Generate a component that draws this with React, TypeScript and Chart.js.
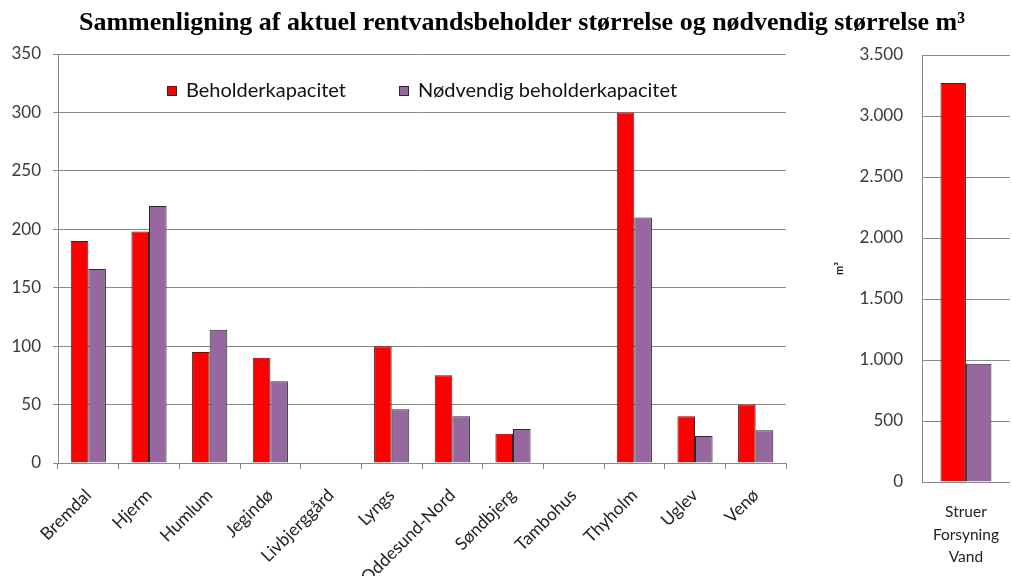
import React, { useEffect, useRef } from "react";
import { Chart, registerables } from "chart.js";

Chart.register(...registerables);

const TITLE = "Sammenligning af aktuel rentvandsbeholder størrelse og nødvendig størrelse m³";
const SERIES_LABELS = ["Beholderkapacitet", "Nødvendig beholderkapacitet"];

const categories = [
  "Bremdal", "Hjerm", "Humlum", "Jegindø", "Livbjerggård", "Lyngs",
  "Oddesund-Nord", "Søndbjerg", "Tambohus", "Thyholm", "Uglev", "Venø",
];
const capacity = [190, 198, 95, 90, null, 100, 75, 25, null, 300, 40, 50];
const required = [166, 220, 114, 70, null, 46, 40, 29, null, 210, 23, 28];

const bigCategories = [["Struer", "Forsyning", "Vand"]];
const bigCapacity = [3270];
const bigRequired = [970];

const leftTicks = { min: 0, max: 350, step: 50 };
const rightTicks = { min: 0, max: 3500, step: 500 };
const rightAxisTitle = "m³";

const RED = "#FF0000";
const PURPLE = "#97679F";
const BORDER = "#2a2a2a";
const GRID = "#8a8a8a";
const FONT = "Lato";

const fmtDots = (v: number) => String(v).replace(/\B(?=(\d{3})+(?!\d))/g, ".");

const insideLegend = {
  id: "insideLegend",
  afterDraw(chart: any, _args: any, opts: any) {
    if (!opts || !opts.display) return;
    const ctx = chart.ctx;
    const { left, top } = chart.chartArea;
    ctx.save();
    ctx.font = `${opts.size}px ${opts.family}`;
    ctx.textBaseline = "middle";
    ctx.textAlign = "left";
    let x = left + opts.offsetX;
    const y = top + opts.offsetY;
    chart.data.datasets.forEach((ds: any) => {
      ctx.fillStyle = ds.backgroundColor;
      ctx.fillRect(x, y - 5, 10, 10);
      ctx.strokeStyle = ds.borderColor;
      ctx.lineWidth = 1;
      ctx.strokeRect(x + 0.5, y - 4.5, 9, 9);
      x += 19;
      ctx.fillStyle = opts.color;
      ctx.fillText(ds.label, x, y);
      x += ctx.measureText(ds.label).width + opts.gap;
    });
    ctx.restore();
  },
};

export default function App() {
  const leftRef = useRef<HTMLCanvasElement | null>(null);
  const rightRef = useRef<HTMLCanvasElement | null>(null);

  useEffect(() => {
    document.body.style.margin = "0";
    const left = new Chart(leftRef.current as HTMLCanvasElement, {
      type: "bar",
      data: {
        labels: categories,
        datasets: [
          { label: SERIES_LABELS[0], data: capacity, backgroundColor: RED, borderColor: BORDER, borderWidth: 1 },
          { label: SERIES_LABELS[1], data: required, backgroundColor: PURPLE, borderColor: BORDER, borderWidth: 1 },
        ],
      },
      options: {
        responsive: false,
        devicePixelRatio: 1,
        animation: false,
        layout: { padding: 0 },
        datasets: { bar: { categoryPercentage: 0.58, barPercentage: 1 } },
        plugins: {
          legend: { display: false },
          tooltip: { enabled: false },
          title: {
            display: true,
            text: TITLE,
            color: "#000",
            font: { family: "Liberation Serif", size: 26, weight: "bold", lineHeight: 1.2 },
            padding: { top: 8, bottom: 14.8 },
          },
          insideLegend: { display: true, offsetX: 109, offsetY: 37, gap: 53, size: 20, family: FONT, color: "#111" },
        } as any,
        scales: {
          x: {
            grid: { display: true, drawOnChartArea: false, drawTicks: true, tickLength: 6, color: GRID, offset: true },
            border: { display: true, color: GRID },
            ticks: { autoSkip: false, maxRotation: 45, minRotation: 45, font: { family: FONT, size: 17.5 }, color: "#222", padding: 16 },
            afterFit: (s: any) => { s.height = 113; },
          },
          y: {
            min: leftTicks.min,
            max: leftTicks.max,
            ticks: { stepSize: leftTicks.step, font: { family: FONT, size: 17 }, color: "#3a3a3a", padding: 12 },
            grid: { color: GRID, tickLength: 5 },
            border: { display: true, color: GRID },
            afterFit: (s: any) => { s.width = 58; },
          },
          spacer: {
            type: "linear",
            position: "right",
            display: true,
            grid: { display: false },
            ticks: { display: false },
            border: { display: false },
            afterFit: (s: any) => { s.width = 258; },
          },
        } as any,
      },
      plugins: [insideLegend as any],
    });

    const right = new Chart(rightRef.current as HTMLCanvasElement, {
      type: "bar",
      data: {
        labels: bigCategories as any,
        datasets: [
          { label: SERIES_LABELS[0], data: bigCapacity, backgroundColor: RED, borderColor: BORDER, borderWidth: 1 },
          { label: SERIES_LABELS[1], data: bigRequired, backgroundColor: PURPLE, borderColor: BORDER, borderWidth: 1 },
        ],
      },
      options: {
        responsive: false,
        devicePixelRatio: 1,
        animation: false,
        layout: { padding: { top: 55, left: 0, right: 0, bottom: 0 } },
        datasets: { bar: { categoryPercentage: 0.58, barPercentage: 1 } },
        plugins: { legend: { display: false }, tooltip: { enabled: false }, title: { display: false } },
        scales: {
          x: {
            grid: { display: true, drawOnChartArea: false, drawTicks: false },
            border: { display: true, color: GRID },
            ticks: { maxRotation: 0, minRotation: 0, font: { family: FONT, size: 15.5, lineHeight: 1.45 }, color: "#222", padding: 19 },
            afterFit: (s: any) => { s.height = 94; },
          },
          y: {
            min: rightTicks.min,
            max: rightTicks.max,
            ticks: { stepSize: rightTicks.step, font: { family: FONT, size: 17 }, color: "#3a3a3a", padding: 19, callback: (v: any) => fmtDots(Number(v)) },
            grid: { color: GRID, drawTicks: false },
            border: { display: true, color: GRID },
            title: { display: true, text: rightAxisTitle, color: "#111", font: { family: FONT, size: 11, weight: "bold" }, padding: { top: 3, bottom: 0 } },
            afterFit: (s: any) => { s.width = 92; },
          },
        } as any,
      },
    });

    return () => {
      left.destroy();
      right.destroy();
    };
  }, []);

  return (
    <div style={{ position: "absolute", left: 0, top: 0, width: 1012, height: 576, overflow: "hidden", background: "#fff" }}>
      <canvas ref={leftRef} width={1044} height={576} style={{ position: "absolute", left: 0, top: 0, width: 1044, height: 576 }} />
      <canvas ref={rightRef} width={188} height={576} style={{ position: "absolute", left: 830, top: 0, width: 188, height: 576 }} />
    </div>
  );
}
